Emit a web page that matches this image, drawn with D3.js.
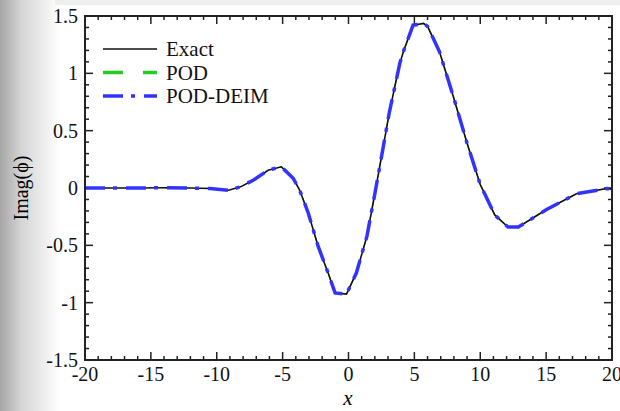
<!DOCTYPE html>
<html>
<head>
<meta charset="utf-8">
<script src="https://cdn.jsdelivr.net/npm/d3@7"></script>
<style>
  body { margin: 0; background: #fff; }
  svg { display: block; }
</style>
</head>
<body>
<div id="chart"></div>
<script>
// values
let xs = [-20, -18, -16, -14, -12, -10.5, -9.1, -8.2, -7.2, -6.1, -5.1, -4.2, -3.7, -3.05, -2.3, -1.55, -1.02, -0.15,
          0.6, 1.4, 2.0, 2.64, 3.1, 3.9, 4.2, 4.9, 5.7, 6.0, 6.9, 7.95, 9.0, 10.0, 11.1, 12.1, 12.9, 15.0, 17.3, 19.6, 20];
let exact = [0, 0, 0, 0.002, 0, -0.005, -0.02, 0.01, 0.07, 0.155, 0.185, 0.085, -0.02, -0.22, -0.51, -0.74, -0.915, -0.925,
             -0.74, -0.42, -0.05, 0.36, 0.66, 1.09, 1.2, 1.42, 1.435, 1.41, 1.19, 0.8, 0.39, 0.03, -0.235, -0.34, -0.34, -0.19, -0.05, -0.005, -0.01];
let pod = exact.slice();
let podDeim = exact.slice();

let xTicks = [-20, -15, -10, -5, 0, 5, 10, 15, 20];
let yTicks = [-1.5, -1, -0.5, 0, 0.5, 1, 1.5];
let seriesNames = ["Exact", "POD", "POD-DEIM"];

let W = 620, H = 411;
let pLeft = 85, pRight = 612, pTop = 16, pBottom = 360;

let svg = d3.select("#chart").append("svg")
    .attr("width", W).attr("height", H)
    .attr("font-family", "'Liberation Serif', 'Times New Roman', serif");

// slide shadow at the left and top
let grad = svg.append("defs").append("linearGradient").attr("id", "shade");
grad.append("stop").attr("offset", "0%").attr("stop-color", "#a6a6a6");
grad.append("stop").attr("offset", "35%").attr("stop-color", "#d4d4d4");
grad.append("stop").attr("offset", "100%").attr("stop-color", "#ffffff");
svg.append("rect").attr("x", 0).attr("y", 0).attr("width", 60).attr("height", H).attr("fill", "url(#shade)");
svg.append("rect").attr("x", 55).attr("y", 0).attr("width", W - 55).attr("height", 5).attr("fill", "#eeeeee");

let x = d3.scaleLinear().domain([-20, 20]).range([pLeft, pRight]);
let y = d3.scaleLinear().domain([-1.5, 1.5]).range([pBottom, pTop]);

let line = d3.line().x(d => x(d[0])).y(d => y(d[1]));

// ticks, all four sides, pointing in
let minorX = d3.range(-20, 20.01, 1), minorY = d3.range(-1.5, 1.501, 0.1);
let tk = svg.append("g").attr("stroke", "#222").attr("stroke-width", 1.5);
minorX.forEach(v => {
  let major = Math.abs(v % 5) < 1e-6;
  let len = major ? 8 : 4;
  tk.append("line").attr("x1", x(v)).attr("x2", x(v)).attr("y1", pBottom).attr("y2", pBottom - len);
  tk.append("line").attr("x1", x(v)).attr("x2", x(v)).attr("y1", pTop).attr("y2", pTop + len);
});
minorY.forEach(v => {
  let major = Math.abs(Math.round(v * 10) % 5) === 0;
  let len = major ? 8 : 4;
  tk.append("line").attr("y1", y(v)).attr("y2", y(v)).attr("x1", pLeft).attr("x2", pLeft + len);
  tk.append("line").attr("y1", y(v)).attr("y2", y(v)).attr("x1", pRight).attr("x2", pRight - len);
});

svg.append("g").selectAll("text").data(xTicks).join("text")
    .attr("x", d => x(d)).attr("y", 381)
    .attr("text-anchor", "middle").attr("font-size", 20).attr("fill", "#111")
    .text(d => d);
svg.append("g").selectAll("text").data(yTicks).join("text")
    .attr("x", 78).attr("y", d => y(d) + 7)
    .attr("text-anchor", "end").attr("font-size", 20).attr("fill", "#111")
    .text(d => d);

// curves
let ptsExact = xs.map((v, i) => [v, exact[i]]);
let ptsPod = xs.map((v, i) => [v, pod[i]]);
let ptsDeim = xs.map((v, i) => [v, podDeim[i]]);

svg.append("path").attr("d", line(ptsPod)).attr("fill", "none")
    .attr("stroke", "#22cc22").attr("stroke-width", 1.2).attr("stroke-dasharray", "20,20");
svg.append("path").attr("d", line(ptsExact)).attr("fill", "none")
    .attr("stroke", "#111").attr("stroke-width", 1.6);
svg.append("path").attr("d", line(ptsDeim)).attr("fill", "none")
    .attr("stroke", "#3333ff").attr("stroke-width", 3.5).attr("stroke-dasharray", "20,8,4,9");

// frame
svg.append("rect").attr("x", pLeft).attr("y", pTop).attr("width", pRight - pLeft).attr("height", pBottom - pTop)
    .attr("fill", "none").attr("stroke", "#222").attr("stroke-width", 2);

// legend
let legStyles = [
  { color: "#111", width: 1.6, dash: null },
  { color: "#22cc22", width: 3.5, dash: "20,20" },
  { color: "#3333ff", width: 3.5, dash: "20,8,4,9" }
];
let leg = svg.append("g");
seriesNames.forEach((name, i) => {
  let ly = 49 + i * 23.5;
  leg.append("line").attr("x1", 103).attr("x2", 157).attr("y1", ly).attr("y2", ly)
      .attr("stroke", legStyles[i].color).attr("stroke-width", legStyles[i].width)
      .attr("stroke-dasharray", legStyles[i].dash);
  leg.append("text").attr("x", 166).attr("y", ly + 7).attr("font-size", 21).attr("fill", "#111").text(name);
});

// axis titles
svg.append("text").attr("x", 348).attr("y", 405).attr("text-anchor", "middle")
    .attr("font-size", 21).attr("font-style", "italic").text("x");
svg.append("text").attr("transform", "translate(28,188) rotate(-90)").attr("text-anchor", "middle")
    .attr("font-size", 20).text("Imag(ϕ)");
</script>
</body>
</html>
